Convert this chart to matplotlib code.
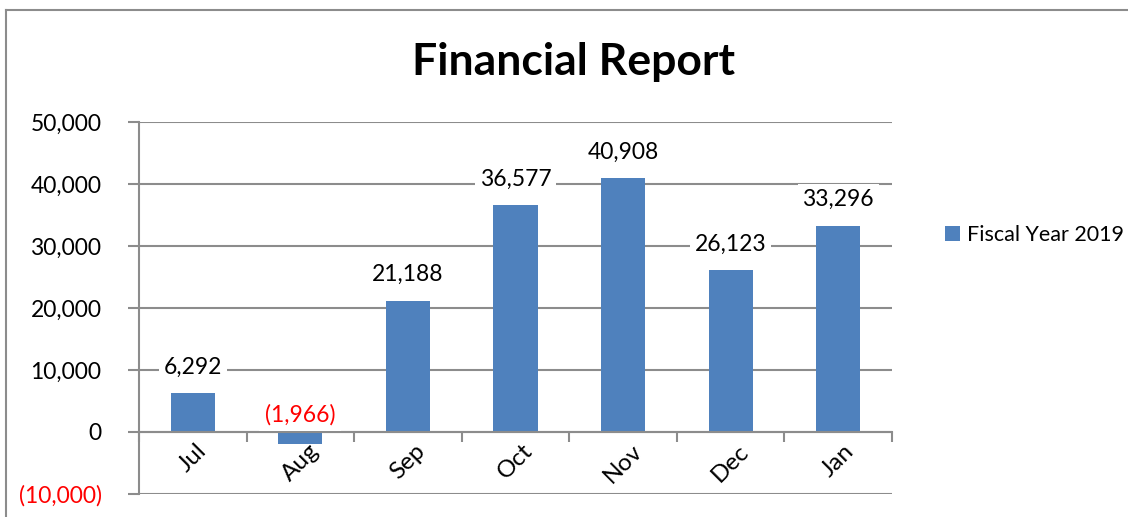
import matplotlib
matplotlib.use("Agg")
import matplotlib.pyplot as plt
from matplotlib.lines import Line2D
from matplotlib.ticker import FuncFormatter

months = ["Jul", "Aug", "Sep", "Oct", "Nov", "Dec", "Jan"]
values = [6292, -1966, 21188, 36577, 40908, 26123, 33296]
series_name = "Fiscal Year 2019"
yticks = [-10000, 0, 10000, 20000, 30000, 40000, 50000]

W, H = 1128, 517
plt.rcParams['font.family'] = ['Lato', 'DejaVu Sans']
fig = plt.figure(figsize=(W/100, H/100), dpi=100)
ax = fig.add_axes([139/W, 1-494/H, (892-139)/W, (494-122)/H])

grid_c = "#8c8c8c"
bar_c = "#4F81BD"

x = list(range(len(months)))
ax.bar(x, values, width=0.41, color=bar_c, zorder=2, label=series_name)
ax.set_xlim(-0.5, len(months)-0.5)
ax.set_ylim(-10000, 50000)
ax.set_yticks(yticks)

def fmt(v, pos=None):
    v = int(round(v))
    if v < 0:
        return "({:,})".format(-v)
    return "{:,}".format(v)

ax.yaxis.set_major_formatter(FuncFormatter(fmt))
ax.yaxis.grid(True, color=grid_c, linewidth=1.5, zorder=0)
ax.set_axisbelow(True)
for s in ['top', 'right']:
    ax.spines[s].set_visible(False)
ax.spines['left'].set_color(grid_c)
ax.spines['left'].set_linewidth(1.5)
ax.spines['bottom'].set_position(('data', 0))
ax.spines['bottom'].set_color(grid_c)
ax.spines['bottom'].set_linewidth(1.5)

ax.tick_params(axis='y', length=8, width=1.5, color=grid_c, pad=19, labelsize=16.5)
for lbl, v in zip(ax.get_yticklabels(), yticks):
    lbl.set_color('red' if v < 0 else 'black')

# x category boundary ticks
ax.set_xticks([i + 0.5 for i in range(-1, len(months))], minor=True)
ax.set_xticks(x)
ax.set_xticklabels(months, rotation=45, ha='center', va='top', fontsize=17.5)
ax.tick_params(axis='x', which='major', length=0, pad=6)
ax.tick_params(axis='x', which='minor', length=7, width=1.5, color=grid_c, direction='out')

for i, v in enumerate(values):
    if v >= 0:
        ax.annotate(fmt(v), (i, v), xytext=(0, 26), textcoords='offset pixels',
                    ha='center', va='center', fontsize=16.5, color='black', zorder=3,
                    bbox=dict(boxstyle='square,pad=0.2', fc='white', ec='none'))
    else:
        ax.annotate(fmt(v), (i, 0), xytext=(0, 17), textcoords='offset pixels',
                    ha='center', va='center', fontsize=16.5, color='red', zorder=3,
                    bbox=dict(boxstyle='square,pad=0.25', fc='white', ec='none'))

fig.text(573/W, 1-62/H, "Financial Report", ha='center', va='center',
         fontsize=32, fontweight='bold')

fig.legend(loc='center left', bbox_to_anchor=(936/W, 1-235/H), frameon=False,
           fontsize=15.5, handlelength=0.7, handleheight=0.7, handletextpad=0.35,
           borderaxespad=0)

fig.add_artist(Line2D([6/W, 6/W], [0, 1-10/H], color=grid_c, linewidth=1.5))
fig.add_artist(Line2D([6/W, 1], [1-10/H, 1-10/H], color=grid_c, linewidth=1.5))

fig.savefig("out.png", dpi=100)
